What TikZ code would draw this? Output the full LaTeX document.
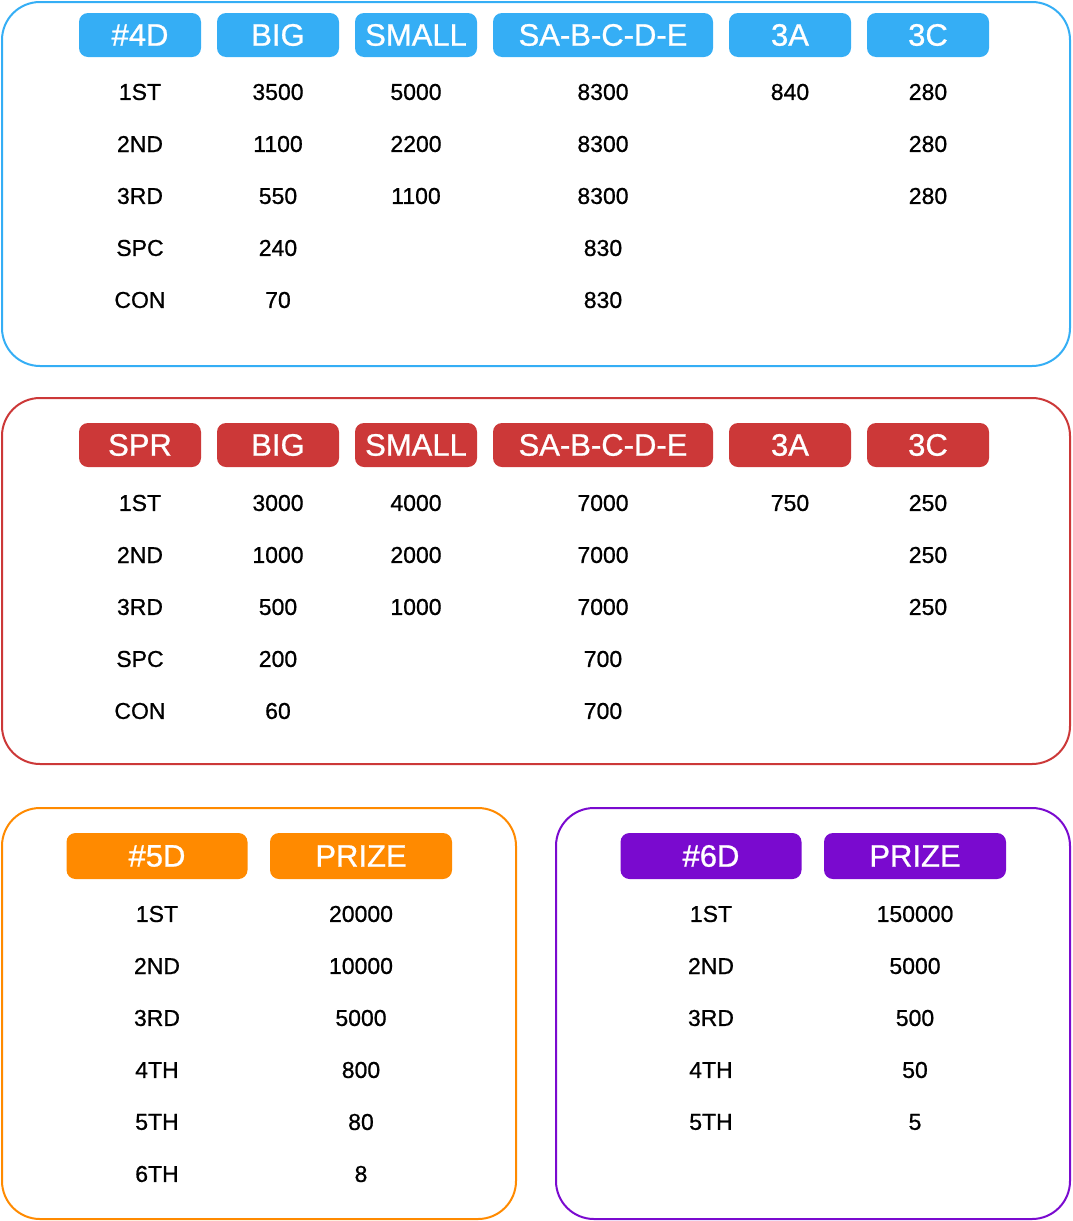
\documentclass[tikz,border=0pt]{standalone}
\usepackage{fontspec}
\setmainfont{Liberation Sans}[FakeBold=0.8]
\definecolor{cb}{HTML}{35AEF5}
\definecolor{cr}{HTML}{CC3838}
\definecolor{co}{HTML}{FF8A00}
\definecolor{cp}{HTML}{7A0ACF}
\begin{document}
\begin{tikzpicture}[x=1pt,y=-1pt,
 frame/.style={draw=#1,line width=2pt,rounded corners=38pt},
 pill/.style={fill=#1,rounded corners=9pt,text=white,font=\fontsize{31}{32}\selectfont,inner sep=0pt,anchor=center},
 cell/.style={font=\fontsize{23}{24}\selectfont,anchor=center,inner sep=0pt}]
\useasboundingbox (0,0) rectangle (1072,1221);
\draw[frame=cb] (2,2) rectangle (1070,366);
\draw[frame=cr] (2,398) rectangle (1070,764);
\draw[frame=co] (2,808) rectangle (516,1219);
\draw[frame=cp] (556,808) rectangle (1070,1219);
% top tables
\foreach \c/\yh/\r/\hd in {cb/35/92/{\#4D},cr/445/503/SPR}{
 \foreach \x/\w/\t [count=\i] in {140/122/\hd,278/122/BIG,416/122/SMALL,603/220/SA-B-C-D-E,790/122/3A,928/122/3C}
  \node[pill=\c,minimum width=\w pt,minimum height=44pt] (h\c\i) at (\x,\yh) {\t};
}
\foreach \lab [count=\i] in {1ST,2ND,3RD,SPC,CON}{
 \node[cell] (lb\i) at (140,92+52*\i-52) {\lab};
 \node[cell] (lr\i) at (140,503+52*\i-52) {\lab};
}
\foreach \x/\y/\t [count=\i] in {278/92/3500,416/92/5000,603/92/8300,790/92/840,928/92/280,
 278/144/1100,416/144/2200,603/144/8300,928/144/280,
 278/196/550,416/196/1100,603/196/8300,928/196/280,
 278/248/240,603/248/830,278/300/70,603/300/830}
 \node[cell] (vb\i) at (\x,\y) {\t};
\foreach \x/\y/\t [count=\i] in {278/503/3000,416/503/4000,603/503/7000,790/503/750,928/503/250,
 278/555/1000,416/555/2000,603/555/7000,928/555/250,
 278/607/500,416/607/1000,603/607/7000,928/607/250,
 278/659/200,603/659/700,278/711/60,603/711/700}
 \node[cell] (vr\i) at (\x,\y) {\t};
% bottom
\node[pill=co,minimum width=181pt,minimum height=46pt] (ho1) at (157,856) {\#5D};
\node[pill=co,minimum width=182pt,minimum height=46pt] (ho2) at (361,856) {PRIZE};
\node[pill=cp,minimum width=181pt,minimum height=46pt] (hp1) at (711,856) {\#6D};
\node[pill=cp,minimum width=182pt,minimum height=46pt] (hp2) at (915,856) {PRIZE};
\foreach \l/\v [count=\i] in {1ST/20000,2ND/10000,3RD/5000,4TH/800,5TH/80,6TH/8}{
 \node[cell] (lo\i) at (157,914+52*\i-52) {\l};
 \node[cell] (vo\i) at (361,914+52*\i-52) {\v};
}
\foreach \l/\v [count=\i] in {1ST/150000,2ND/5000,3RD/500,4TH/50,5TH/5}{
 \node[cell] (lp\i) at (711,914+52*\i-52) {\l};
 \node[cell] (vp\i) at (915,914+52*\i-52) {\v};
}
\end{tikzpicture}
\end{document}
